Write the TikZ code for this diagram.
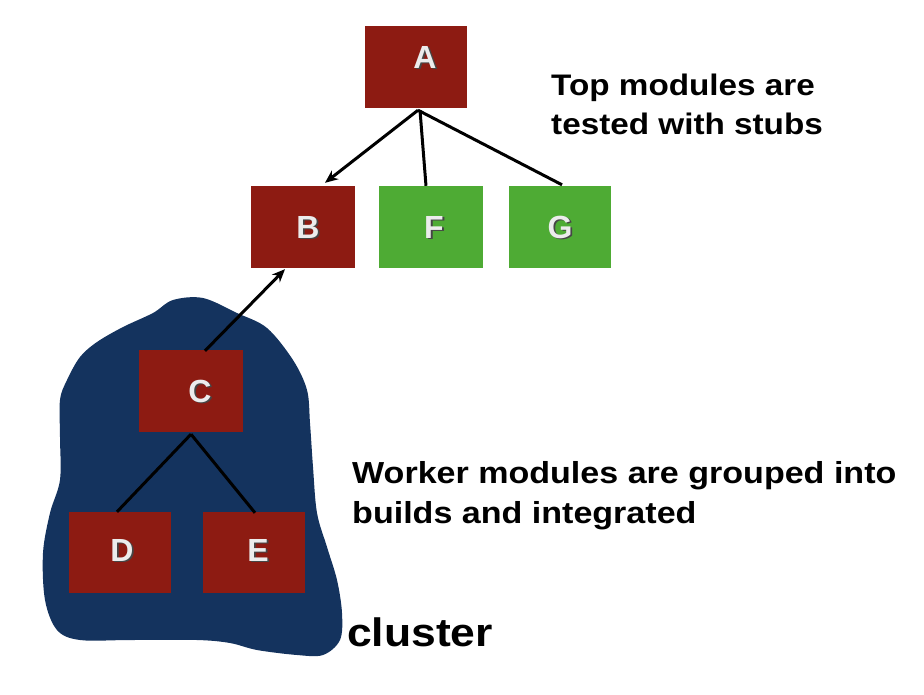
\documentclass[tikz,border=0pt]{standalone}
\usepackage{fontspec}
\setmainfont{Liberation Sans}
\newfontfamily\widefont[FakeStretch=1.12]{Liberation Sans}
\usetikzlibrary{arrows.meta,calc}
\definecolor{boxred}{RGB}{141,27,18}
\definecolor{boxgreen}{RGB}{78,171,52}
\definecolor{blobnavy}{RGB}{20,51,94}
\definecolor{lettercol}{RGB}{236,236,236}
\definecolor{lettershadow}{RGB}{70,70,70}
\newcommand{\shtext}[3]{\makebox[0pt][l]{\hspace{#3}\raisebox{-#3}{\textcolor{#2}{#1}}}#1}
\tikzset{
  modbox/.style={draw=none, inner sep=0pt, rectangle},
  redbox/.style={modbox, fill=boxred},
  greenbox/.style={modbox, fill=boxgreen},
  letter/.style={inner sep=0pt, text=lettercol, font=\fontsize{32}{32}\selectfont\bfseries},
  caption/.style={inner sep=0pt, anchor=base west, font=\widefont\fontsize{29.7}{30}\selectfont\bfseries},
  conn/.style={line width=3pt, black},
  arrowconn/.style={conn, -{Stealth[length=13pt,width=11pt]}},
}
\begin{document}
\begin{tikzpicture}[x=1pt,y=-1pt]
\useasboundingbox (0,0) rectangle (924,694);
% cluster blob
\fill[blobnavy] plot[smooth cycle, tension=0.55] coordinates {
 (173,300) (203,298) (237,313) (267,328) (293,360) (307,390) (310,423)
 (313,467) (317,513) (327,547) (337,580) (342,613) (340,640) (323,655)
 (297,655) (257,650) (230,643) (197,640) (130,640) (80,640) (57,630)
 (45,600) (43,553) (50,513) (60,480) (60,437) (60,400) (67,380) (80,357)
 (97,342) (123,327) (153,313)};
% boxes
\node[redbox, minimum width=102pt, minimum height=82pt] (A) at (416,67) {};
\node[redbox, minimum width=104pt, minimum height=82pt] (B) at (303,227) {};
\node[greenbox, minimum width=104pt, minimum height=82pt] (F) at (431,227) {};
\node[greenbox, minimum width=102pt, minimum height=82pt] (G) at (560,227) {};
\node[redbox, minimum width=104pt, minimum height=82pt] (C) at (191,391) {};
\node[redbox, minimum width=102pt, minimum height=81pt] (D) at (120,552.5) {};
\node[redbox, minimum width=102pt, minimum height=81pt] (E) at (254,552.5) {};
% letters
\node[letter] (Al) at (425,58) {\shtext{A}{lettershadow}{1.8pt}};
\node[letter] (Bl) at (308,228) {\shtext{B}{lettershadow}{1.8pt}};
\node[letter] (Fl) at (434,228) {\shtext{F}{lettershadow}{1.8pt}};
\node[letter] (Gl) at (560,228) {\shtext{G}{lettershadow}{1.8pt}};
\node[letter] (Cl) at (200,392) {\shtext{C}{lettershadow}{1.8pt}};
\node[letter] (Dl) at (122,551) {\shtext{D}{lettershadow}{1.8pt}};
\node[letter] (El) at (258,551) {\shtext{E}{lettershadow}{1.8pt}};
% connectors
\draw[arrowconn] ([xshift=2pt,yshift=-2pt]A.south) -- ([xshift=22pt,yshift=3pt]B.north);
\draw[conn] ([xshift=4pt,yshift=-2pt]A.south) -- ([xshift=-5pt]F.north);
\draw[conn] ([xshift=2pt,yshift=-2pt]A.south) -- ([xshift=2pt,yshift=1pt]G.north);
\draw[arrowconn] ([xshift=14pt,yshift=-1pt]C.north) -- ([xshift=-18pt,yshift=-1pt]B.south);
\draw[conn] ([yshift=-2pt]C.south) -- ([xshift=-3pt]D.north);
\draw[conn] ([yshift=-2pt]C.south) -- ([xshift=1pt,yshift=-1pt]E.north);
% captions
\node[caption] (t1) at (551,95) {Top modules are};
\node[caption] (t2) at (551,134) {tested with stubs};
\node[caption, font=\widefont\fontsize{30.4}{31}\selectfont\bfseries] (w1) at (352,483) {Worker modules are grouped into};
\node[caption, font=\widefont\fontsize{30.4}{31}\selectfont\bfseries] (w2) at (352,523) {builds and integrated};
\node[caption, font=\widefont\fontsize{39.7}{40}\selectfont\bfseries] (cl) at (347,646) {cluster};
\end{tikzpicture}
\end{document}
